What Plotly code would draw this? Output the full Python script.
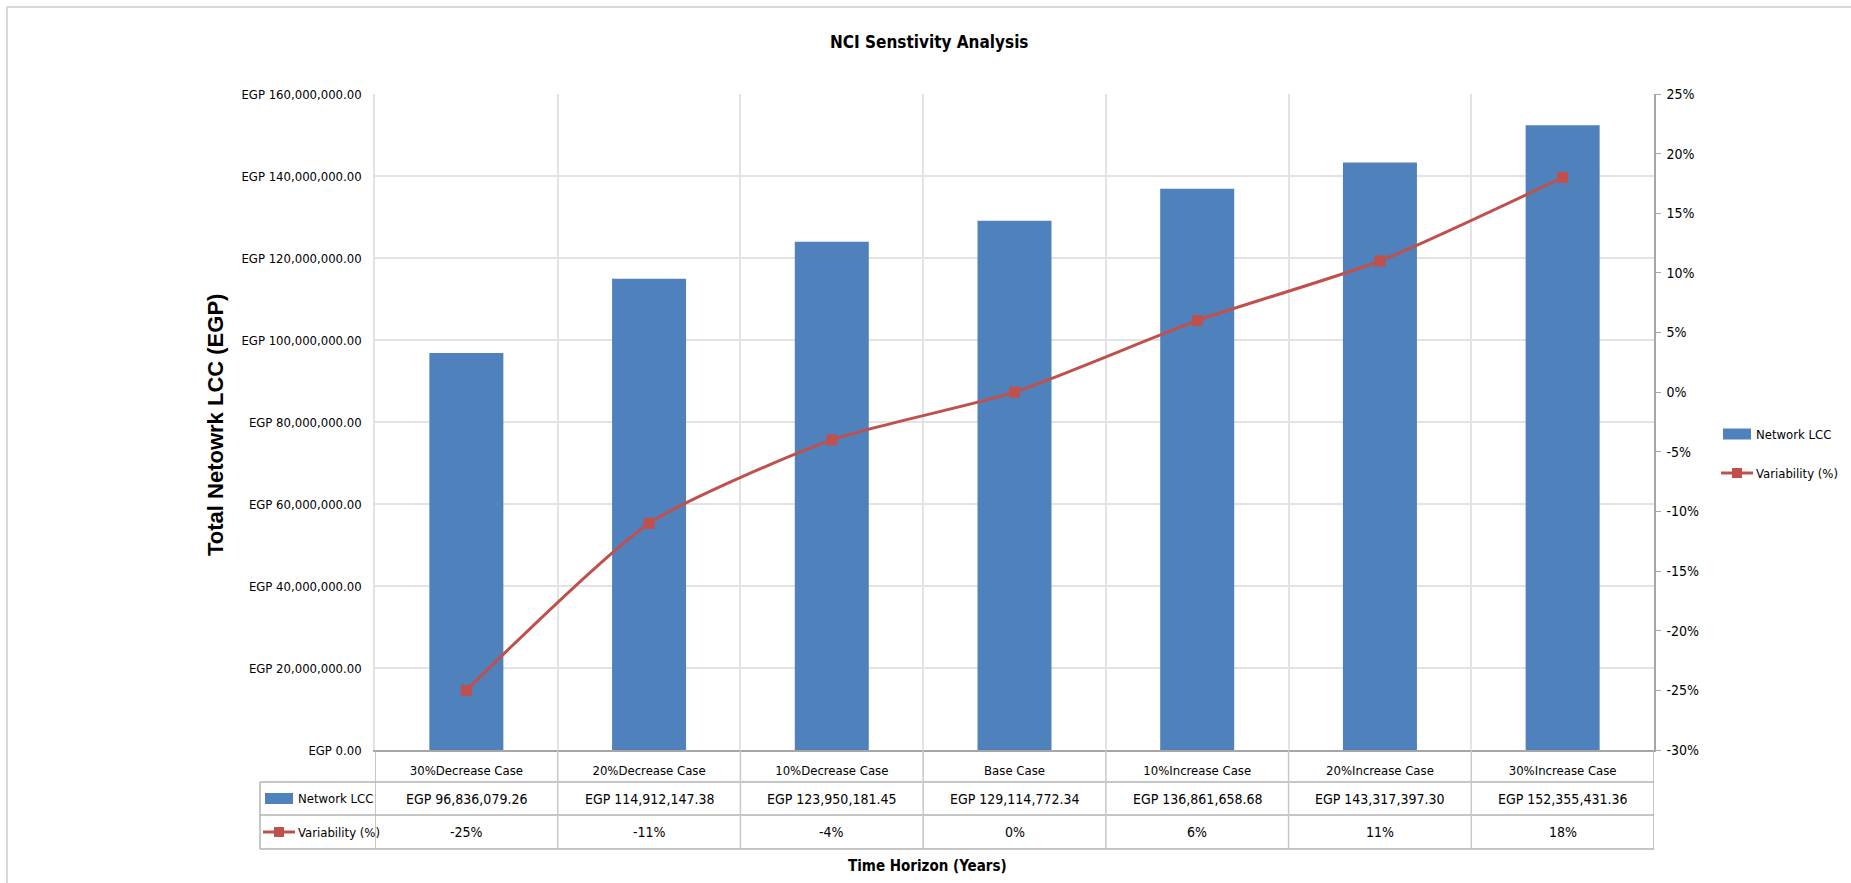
import plotly.graph_objects as go

# Sensitivity cases and results
cases = ["30%Decrease Case", "20%Decrease Case", "10%Decrease Case", "Base Case",
         "10%Increase Case", "20%Increase Case", "30%Increase Case"]
network_lcc = [96836079.26, 114912147.38, 123950181.45, 129114772.34,
               136861658.68, 143317397.30, 152355431.36]
variability_pct = [-25, -11, -4, 0, 6, 11, 18]

# Right-hand axis ticks
pct_ticks = [-30, -25, -20, -15, -10, -5, 0, 5, 10, 15, 20, 25]
pct_tick_labels = [f"{v}%" for v in pct_ticks]

BAR_COLOR = "#4F81BD"
LINE_COLOR = "#C0504D"
NARROW = "DejaVu Sans Condensed, Liberation Sans Narrow, Arial Narrow, sans-serif"
BOLD_SANS = "Liberation Sans, Arial, sans-serif"

W, H = 1851, 883
L, R, T, B = 375, 1654, 94, 750  # plot area in pixels


def px(x):
    return (x - L) / (R - L)


def py(y):
    return (B - y) / (B - T)


def label(x, y, text, size, family=NARROW, xanchor="center", xref="paper", **kw):
    return dict(x=x, y=y, xref=xref, yref="paper", text=text, showarrow=False,
                xanchor=xanchor, yanchor="middle",
                font=dict(size=size, color="#000", family=family), **kw)


fig = go.Figure()
fig.add_trace(go.Bar(
    x=cases, y=network_lcc, name="Network LCC", marker_color=BAR_COLOR,
    marker_line_width=0, showlegend=False, yaxis="y",
))
fig.add_trace(go.Scatter(
    x=cases, y=variability_pct, name="Variability (%)", mode="lines+markers",
    line=dict(color=LINE_COLOR, width=3, shape="spline", smoothing=0.6),
    marker=dict(symbol="square", size=11, color=LINE_COLOR),
    showlegend=False, yaxis="y2",
))

shapes = []
grey = "#b3b3b3"
# outer chart border
shapes.append(dict(type="rect", xref="paper", yref="paper",
                   x0=px(7), x1=px(W + 20), y0=py(H + 20), y1=py(7),
                   line=dict(color="#d9d9d9", width=2), layer="below"))
# data table grid
n = len(cases)
for yy in (782, 815, 849):
    shapes.append(dict(type="line", xref="paper", yref="paper",
                       x0=px(260), x1=1, y0=py(yy), y1=py(yy),
                       line=dict(color=grey, width=1.5)))
shapes.append(dict(type="line", xref="paper", yref="paper",
                   x0=px(260), x1=px(260), y0=py(782), y1=py(849),
                   line=dict(color=grey, width=1.5)))
for i in range(n + 1):
    shapes.append(dict(type="line", xref="x", yref="paper",
                       x0=i - 0.5, x1=i - 0.5, y0=0, y1=py(849),
                       line=dict(color="#c8c8c8" if 0 < i < n else grey, width=1.5)))


def bar_key(x0, yc):
    return dict(type="rect", xref="paper", yref="paper",
                x0=px(x0), x1=px(x0 + 28), y0=py(yc + 5.5), y1=py(yc - 5.5),
                fillcolor=BAR_COLOR, line=dict(width=0))


def line_key(x0, yc):
    return [dict(type="line", xref="paper", yref="paper",
                 x0=px(x0), x1=px(x0 + 32), y0=py(yc), y1=py(yc),
                 line=dict(color=LINE_COLOR, width=3)),
            dict(type="rect", xref="paper", yref="paper",
                 x0=px(x0 + 11), x1=px(x0 + 21), y0=py(yc + 5), y1=py(yc - 5),
                 fillcolor=LINE_COLOR, line=dict(width=0))]


# keys inside the data table
shapes.append(bar_key(265, 798.5))
shapes.extend(line_key(263, 832))
# series legend on the right
shapes.append(bar_key(1723, 434))
shapes.extend(line_key(1721, 473))

annotations = []
for i, (v, p) in enumerate(zip(network_lcc, variability_pct)):
    annotations.append(label(i, py(798.5), f"EGP {v:,.2f}", 14, xref="x"))
    annotations.append(label(i, py(832), f"{p}%", 14, xref="x"))
annotations.append(label(px(296), py(798.5), "Network LCC", 13, xanchor="left"))
annotations.append(label(px(296), py(832), "Variability (%)", 13, xanchor="left"))
annotations.append(label(px(1754), py(434), "Network LCC", 13, xanchor="left"))
annotations.append(label(px(1754), py(473), "Variability (%)", 13, xanchor="left"))
# titles
annotations.append(label(px(929), py(42), "<b>NCI Senstivity Analysis</b>", 17))
annotations.append(label(px(927), py(866), "<b>Time Horizon (Years)</b>", 15))
annotations.append(label(px(215), py(425), "<b>Total Netowrk LCC (EGP)</b>", 22,
                         family=BOLD_SANS, textangle=-90))

fig.update_layout(
    width=W, height=H,
    margin=dict(l=L, r=W - R, t=T, b=H - B, pad=0, autoexpand=False),
    paper_bgcolor="white", plot_bgcolor="white",
    font=dict(family=NARROW, size=13, color="#000"),
    bargap=0.595,
    showlegend=False,
    xaxis=dict(type="category", tickson="boundaries", showgrid=True,
               gridcolor="#e3e3e3", gridwidth=1.5, showline=True,
               linecolor="#a6a6a6", linewidth=1.5, ticks="",
               ticklabelstandoff=8, tickfont=dict(size=13, family=NARROW),
               range=[-0.5, n - 0.5]),
    yaxis=dict(range=[0, 160e6], dtick=20e6, tickprefix="EGP ",
               tickformat=",.2f", showgrid=True, gridcolor="#e3e3e3",
               gridwidth=1.5, showline=True, linecolor="#e3e3e3",
               linewidth=1.5, ticks="", ticklabelstandoff=9,
               zeroline=False, tickfont=dict(size=13, family=NARROW)),
    yaxis2=dict(range=[-30, 25], tickvals=pct_ticks, ticktext=pct_tick_labels,
                overlaying="y", side="right", showgrid=False, zeroline=False,
                showline=True, linecolor="#a6a6a6", linewidth=1.5,
                ticks="outside", ticklen=5, tickcolor="#a6a6a6",
                ticklabelstandoff=3, tickfont=dict(size=14, family=NARROW)),
    shapes=shapes,
    annotations=annotations,
)

fig.write_html("out.html")
